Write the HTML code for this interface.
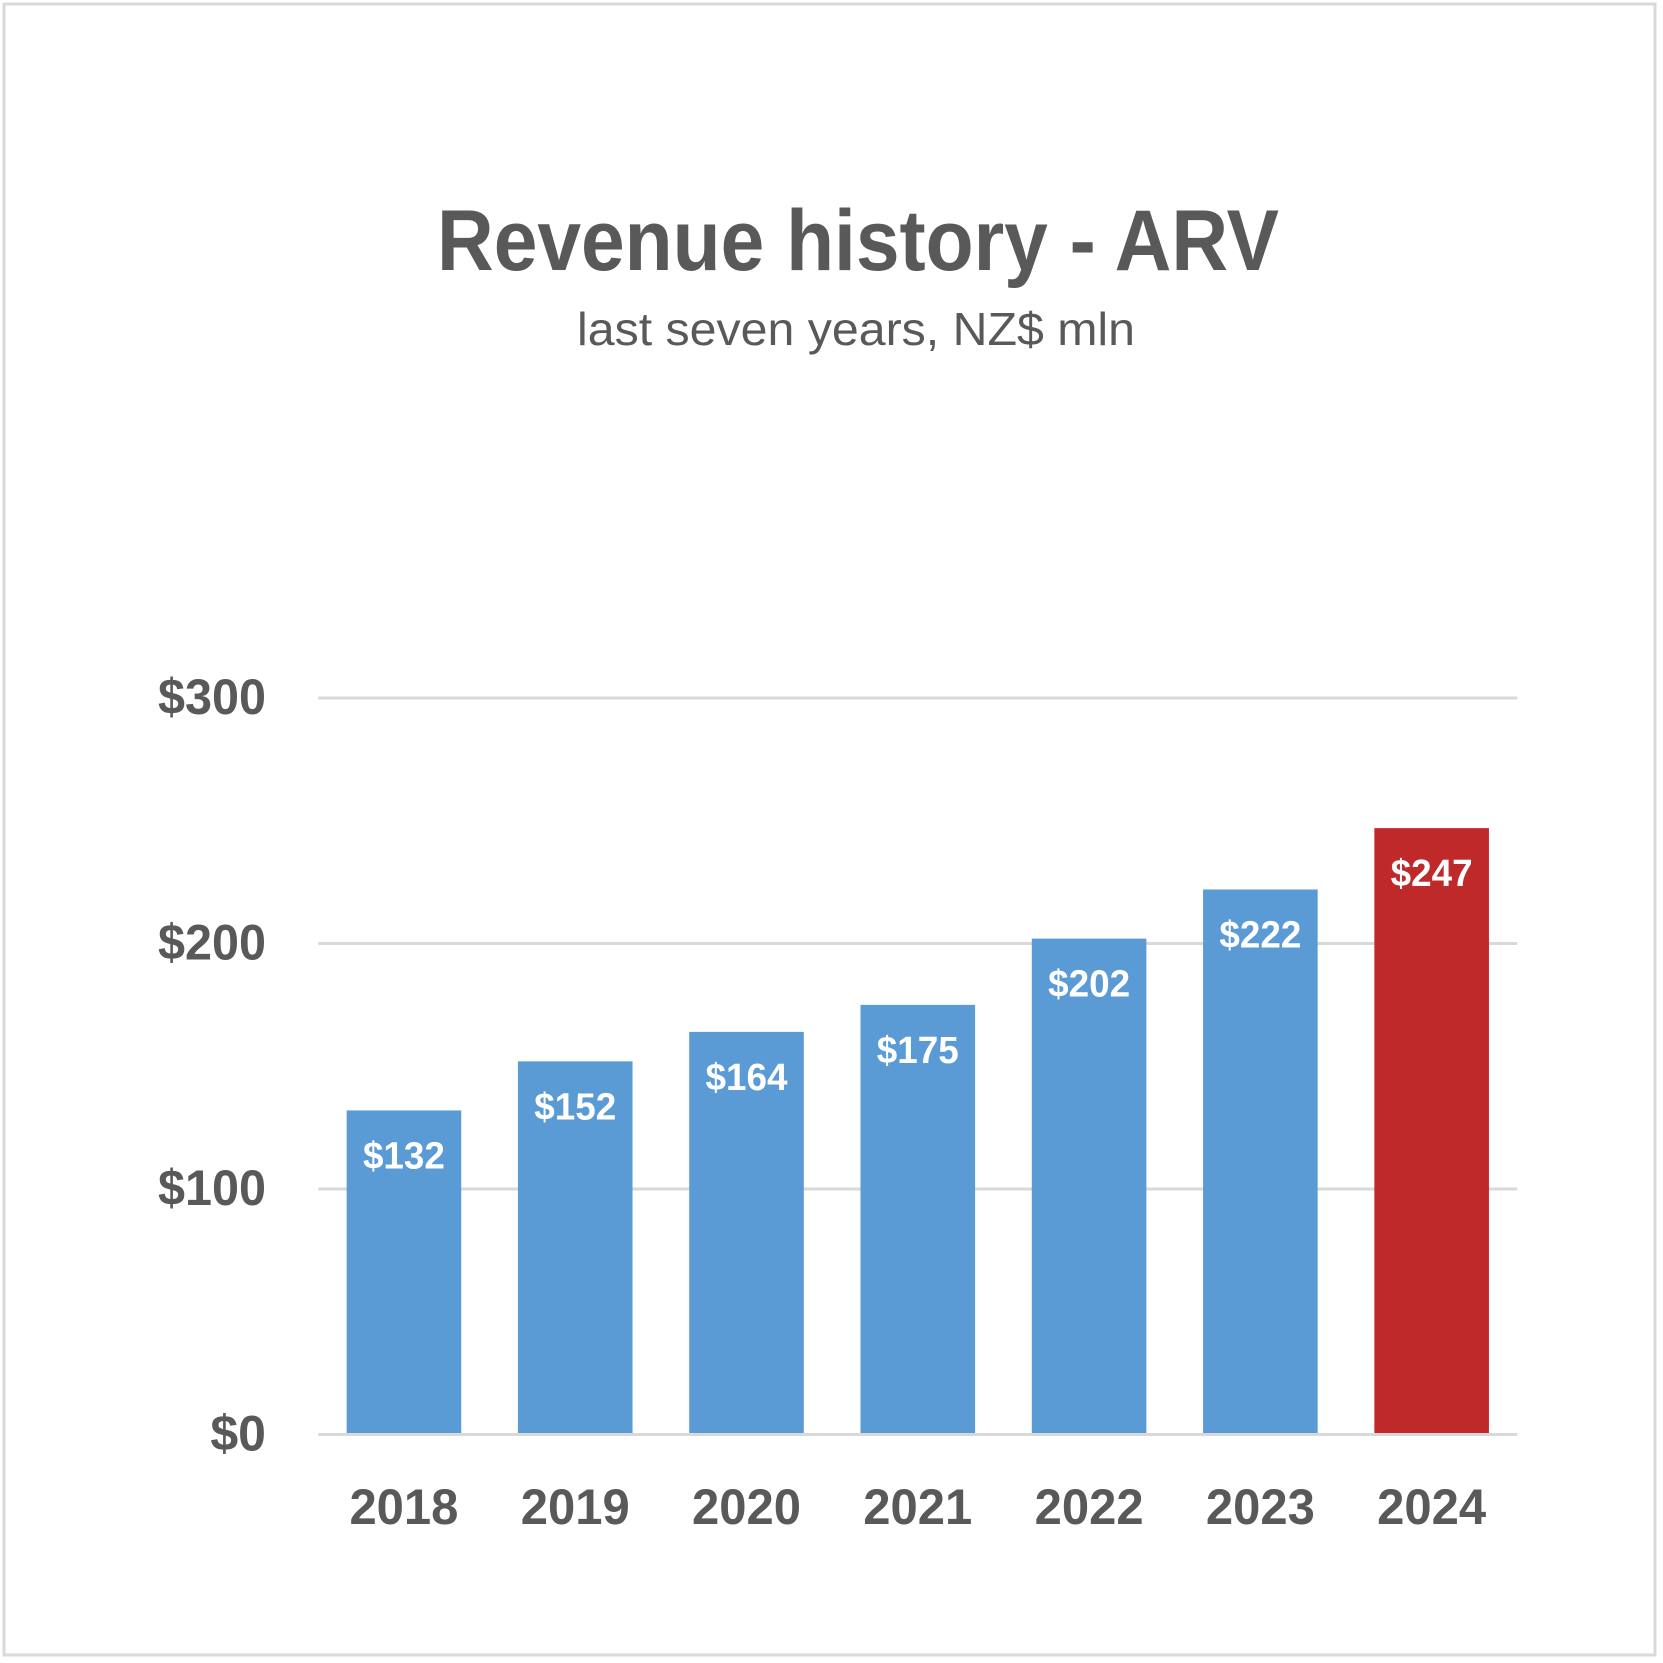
<!DOCTYPE html>
<html><head><meta charset="utf-8"><style>
html,body{margin:0;padding:0;background:#fff;}
svg{display:block;}
text{font-family:"Liberation Sans",sans-serif;fill:#595959;}
</style></head><body>
<svg id="chart" width="1663" height="1663" viewBox="0 0 1663 1663" xmlns="http://www.w3.org/2000/svg">
<rect x="4" y="4" width="1651" height="1651" fill="#fff" stroke="#d9d9d9" stroke-width="3"/>
<text x="858" y="270" text-anchor="middle" font-size="86" font-weight="bold" textLength="842" lengthAdjust="spacingAndGlyphs">Revenue history - ARV</text>
<text x="856" y="345" text-anchor="middle" font-size="46" textLength="558" lengthAdjust="spacingAndGlyphs">last seven years, NZ$ mln</text>
<g id="grid"></g><g id="bars"></g><g id="labels"></g>
</svg>
<script>
const categories = ["2018","2019","2020","2021","2022","2023","2024"];
const revenue = [132,152,164,175,202,222,247];
const valueLabels = ["$132","$152","$164","$175","$202","$222","$247"];
const yTicks = [0,100,200,300];
const yTickLabels = ["$0","$100","$200","$300"];

const NS="http://www.w3.org/2000/svg";
const plotL=318.3, plotR=1517.3, y0=1434.5, pxPer=2.455;
const band=(plotR-plotL)/categories.length, barW=114.6;
function yScale(v){return y0 - v*pxPer;}
function xCenter(i){return plotL + band*(i+0.5);}
function mk(tag,attrs,parent){const e=document.createElementNS(NS,tag);for(const k in attrs)e.setAttribute(k,attrs[k]);parent.appendChild(e);return e;}
const grid=document.getElementById('grid'), bars=document.getElementById('bars'), labels=document.getElementById('labels');
yTicks.forEach((t,i)=>{
  const y=yScale(t);
  const l=mk('line',{x1:plotL,x2:plotR,y1:y,y2:y,stroke:'#d9d9d9','stroke-width':3},grid);
  
  
  const tx=mk('text',{x:266,y:y+16,'text-anchor':'end','font-size':50,'font-weight':'bold',textLength:108,lengthAdjust:'spacingAndGlyphs'},labels);
  if(t===0){tx.removeAttribute('textLength');tx.removeAttribute('lengthAdjust');}
  tx.textContent=yTickLabels[i];
  
  
});
categories.forEach((c,i)=>{
  const cx=xCenter(i), top=yScale(revenue[i]);
  const r=mk('rect',{x:cx-barW/2,y:top,width:barW,height:y0-1.5-top,fill:i===categories.length-1?'#c0292a':'#5b9bd5'},bars);
  
  
  const v=mk('text',{x:cx,y:top+58,'text-anchor':'middle','font-size':38,'font-weight':'bold',textLength:82,lengthAdjust:'spacingAndGlyphs'},labels);
  v.style.fill='#fff';
  v.textContent=valueLabels[i];
  
  
  const xl=mk('text',{x:cx,y:1524,'text-anchor':'middle','font-size':50,'font-weight':'bold',textLength:109,lengthAdjust:'spacingAndGlyphs'},labels);
  xl.textContent=c;
  
  
});
</script>
</body></html>
